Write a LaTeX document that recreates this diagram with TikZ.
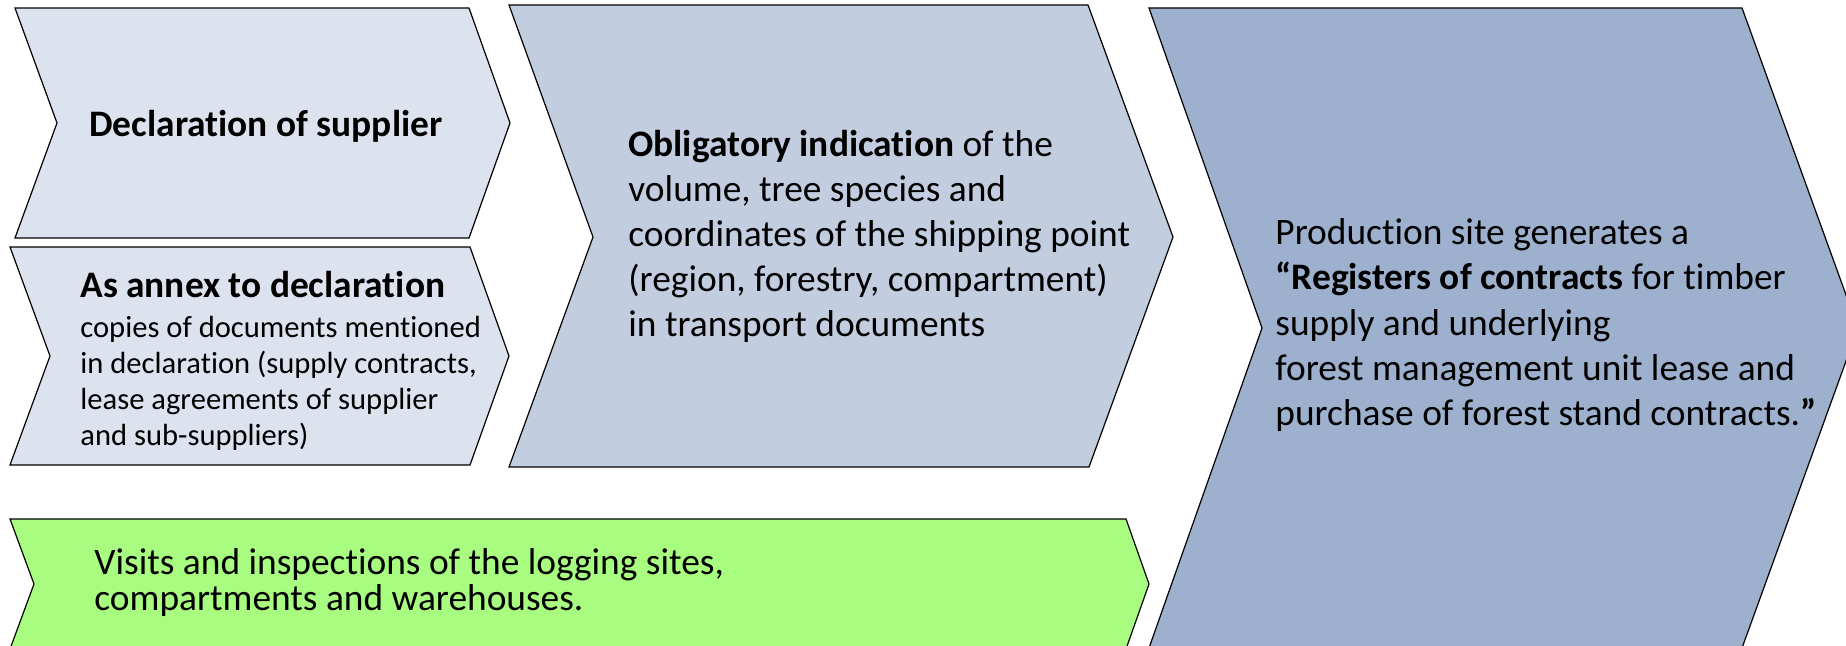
\documentclass[tikz,border=0pt]{standalone}
\usepackage{fontspec}
\setmainfont{Carlito}[Ligatures=NoCommon]
\usepackage{tikz}

\definecolor{declfill}{RGB}{220,227,239}
\definecolor{oblfill}{RGB}{195,205,224}
\definecolor{regfill}{RGB}{157,176,206}
\definecolor{visitfill}{RGB}{168,252,127}

\begin{document}
\begin{tikzpicture}[x=0.5pt,y=-0.5pt]
				\tikzstyle{chevron}=[draw=black,line width=0.6pt,line join=miter]
				\tikzstyle{every node}=[anchor=base west,inner sep=0pt,align=left]
				\tikzstyle{big}=[font=\fontsize{18.7}{22.5}\selectfont]
				\tikzstyle{head}=[font=\fontsize{18.7}{22}\selectfont\bfseries]
				\tikzstyle{small}=[font=\fontsize{15.3}{18}\selectfont]
				\tikzstyle{tight}=[font=\fontsize{18.7}{18}\selectfont]
				\useasboundingbox (0,0) rectangle (1846,646);
				\clip (0,0) rectangle (1846,646);
				\filldraw[chevron,fill=declfill] (15,8) -- (469,8) -- (510,123) -- (469,238) -- (15,238) -- (57,123) -- cycle;
				\filldraw[chevron,fill=declfill] (10,247) -- (470,247) -- (509,356) -- (470,465) -- (10,465) -- (50,356) -- cycle;
				\filldraw[chevron,fill=oblfill] (509,5) -- (1088,5) -- (1173,237) -- (1089,467) -- (509,467) -- (593,237) -- cycle;
				\filldraw[chevron,fill=regfill] (1149,8) -- (1742,8) -- (1858,328) -- (1742,648) -- (1149,648) -- (1262,328) -- cycle;
				\filldraw[chevron,fill=visitfill] (10,519) -- (1126,519) -- (1149,584) -- (1126,649) -- (10,649) -- (34,584) -- cycle;
				\node[head] (decl) at (89,137) {Declaration of supplier};
				\node[head] (annexhead) at (80,298) {As annex to declaration};
				\node[small] (annexbody) at (80,445) {copies of documents mentioned\\
					in declaration (supply contracts,\\
					lease agreements of supplier\\
					and sub-suppliers)};
				\node[big] (oblig) at (628,337) {\textbf{Obligatory indication} of the\\
					volume, tree species and\\
					coordinates of the shipping point\\
					(region, forestry, compartment)\\
					in transport documents};
				\node[big] (register) at (1275,425) {Production site generates a\\
					\textbf{“Registers of contracts} for timber\\
					supply and underlying\\
					forest management unit lease and\\
					purchase of forest stand contracts.\textbf{”}};
				\node[tight] (visits) at (94,610) {Visits and inspections of the logging sites,\\
					compartments and warehouses.};
\end{tikzpicture}
\end{document}
